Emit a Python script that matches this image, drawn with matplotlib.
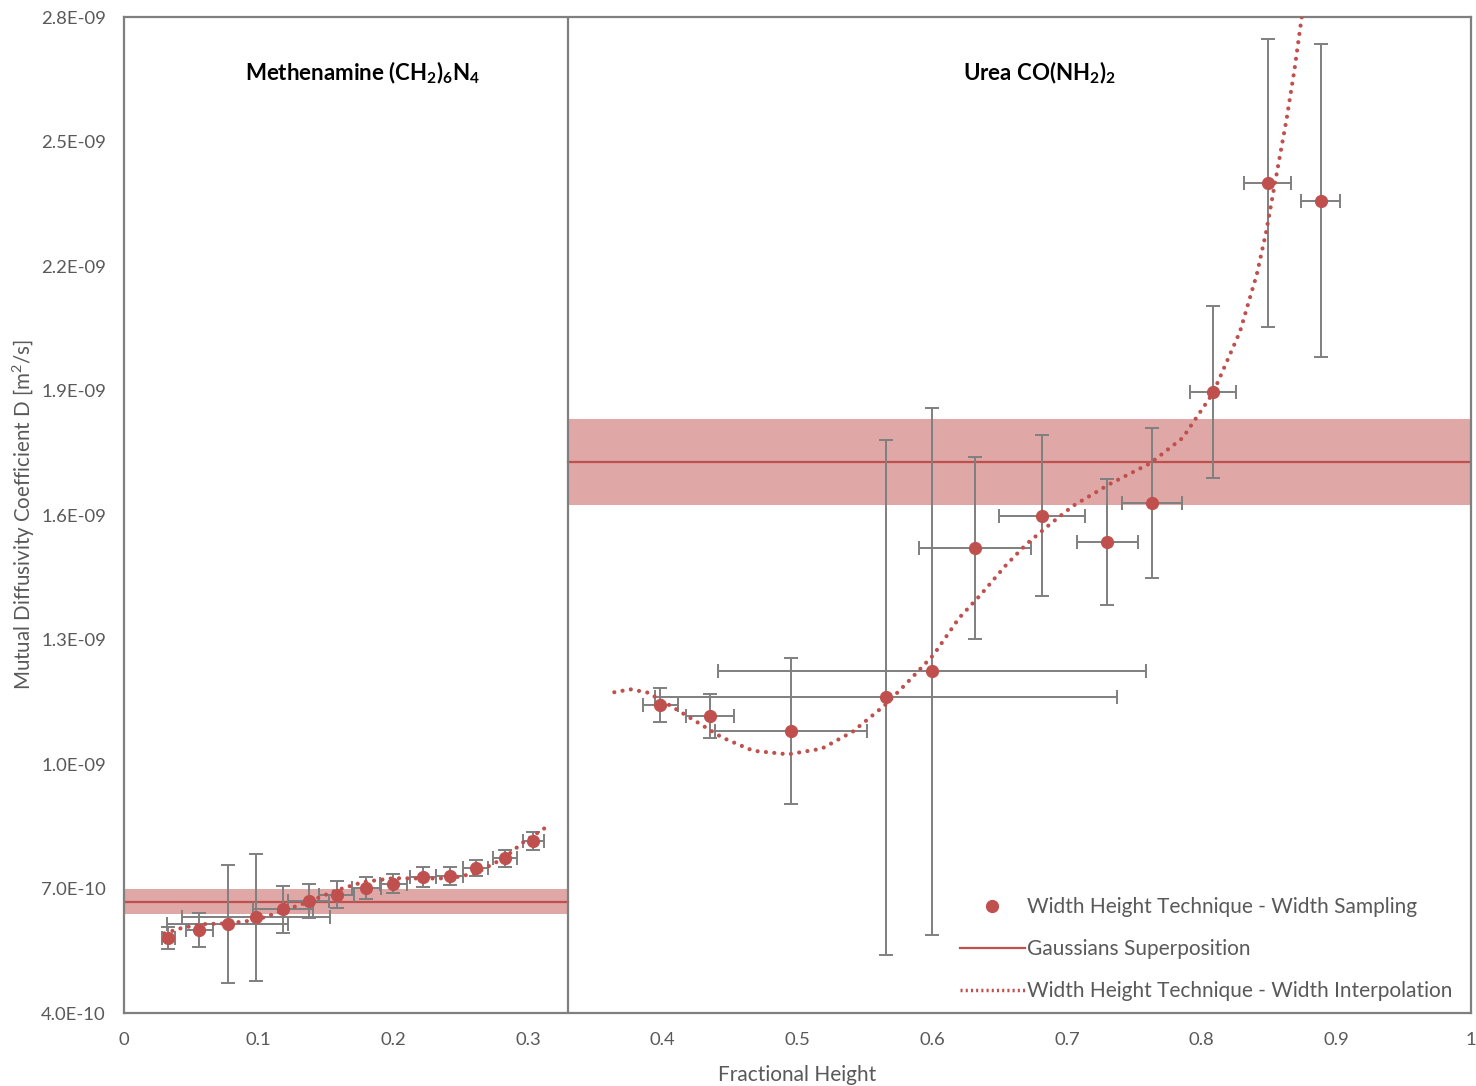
import matplotlib
matplotlib.use("Agg")
import matplotlib.pyplot as plt
import numpy as np
from matplotlib.lines import Line2D

plt.rcParams["font.family"] = ["Lato", "DejaVu Sans"]

RED = "#C0504D"
GREY = "#7F7F7F"
TXT = "#595959"

# --- Methenamine (left panel) ---
meth_x = [0.033, 0.056, 0.077, 0.098, 0.118, 0.137, 0.158, 0.180, 0.200, 0.222, 0.242, 0.261, 0.283, 0.304]
meth_y = [5.81e-10, 6.00e-10, 6.14e-10, 6.31e-10, 6.50e-10, 6.70e-10, 6.85e-10, 7.01e-10,
          7.12e-10, 7.27e-10, 7.30e-10, 7.49e-10, 7.73e-10, 8.14e-10]
meth_yerr = [2.7e-11, 4.0e-11, 1.42e-10, 1.53e-10, 5.7e-11, 4.0e-11, 3.2e-11, 2.6e-11,
             2.3e-11, 2.4e-11, 2.1e-11, 1.9e-11, 2.1e-11, 2.2e-11]
meth_xerr = [0.005, 0.010, 0.045, 0.055, 0.022, 0.015, 0.013, 0.011, 0.010, 0.010, 0.010, 0.009, 0.009, 0.008]

meth_fit_x = [0.030, 0.042, 0.057, 0.077, 0.098, 0.116, 0.137, 0.158, 0.178, 0.200, 0.223, 0.243,
              0.261, 0.282, 0.297, 0.314]
meth_fit_y = [5.92e-10, 6.04e-10, 6.14e-10, 6.16e-10, 6.24e-10, 6.44e-10, 6.68e-10, 6.96e-10,
              7.16e-10, 7.25e-10, 7.24e-10, 7.25e-10, 7.37e-10, 7.73e-10, 8.13e-10, 8.49e-10]

meth_gauss = 6.68e-10
meth_gauss_err = 3.0e-11

# --- Urea (right panel) ---
urea_x = [0.398, 0.435, 0.495, 0.566, 0.600, 0.632, 0.6815, 0.730, 0.763, 0.8085, 0.849, 0.8886]
urea_y = [1.142e-9, 1.116e-9, 1.0795e-9, 1.161e-9, 1.224e-9, 1.520e-9, 1.598e-9, 1.535e-9,
          1.629e-9, 1.896e-9, 2.400e-9, 2.357e-9]
urea_yerr = [4.1e-11, 5.3e-11, 1.75e-10, 6.2e-10, 6.35e-10, 2.19e-10, 1.94e-10, 1.52e-10,
             1.81e-10, 2.07e-10, 3.48e-10, 3.77e-10]
urea_xerr = [0.013, 0.0175, 0.0564, 0.1715, 0.159, 0.0416, 0.032, 0.0226, 0.0223, 0.017, 0.0174, 0.0145]

urea_fit_x = [0.364, 0.376, 0.389, 0.407, 0.423, 0.444, 0.467, 0.493, 0.518, 0.541, 0.565, 0.581,
              0.601, 0.620, 0.636, 0.655, 0.670, 0.6875, 0.7045, 0.732, 0.762, 0.786, 0.8085,
              0.8285, 0.841, 0.848, 0.856, 0.863, 0.869, 0.8743, 0.879]
urea_fit_y = [1.173e-9, 1.180e-9, 1.172e-9, 1.138e-9, 1.106e-9, 1.064e-9, 1.032e-9, 1.0234e-9,
              1.037e-9, 1.078e-9, 1.142e-9, 1.1945e-9, 1.263e-9, 1.352e-9, 1.408e-9, 1.480e-9,
              1.530e-9, 1.578e-9, 1.622e-9, 1.675e-9, 1.725e-9, 1.786e-9, 1.894e-9, 2.042e-9,
              2.180e-9, 2.283e-9, 2.427e-9, 2.552e-9, 2.674e-9, 2.799e-9, 2.90e-9]

urea_gauss = 1.728e-9
urea_gauss_err = 1.03e-10

DIVIDER = 0.33

fig = plt.figure(figsize=(14.76, 10.86), dpi=100)
ax = fig.add_axes([0.084, 0.0672, 0.9126, 0.9171])

# Gaussian superposition bands + lines
ax.fill_between([0, DIVIDER], meth_gauss - meth_gauss_err, meth_gauss + meth_gauss_err,
                color=RED, alpha=0.5, lw=0, zorder=1)
ax.plot([0, DIVIDER], [meth_gauss, meth_gauss], color=RED, lw=1.6, zorder=2)
ax.fill_between([DIVIDER, 1], urea_gauss - urea_gauss_err, urea_gauss + urea_gauss_err,
                color=RED, alpha=0.5, lw=0, zorder=1)
ax.plot([DIVIDER, 1], [urea_gauss, urea_gauss], color=RED, lw=1.6, zorder=2)

ax.axvline(DIVIDER, color=GREY, lw=1.6, zorder=3)

for xs, ys, xe, ye in [(meth_x, meth_y, meth_xerr, meth_yerr), (urea_x, urea_y, urea_xerr, urea_yerr)]:
    ax.errorbar(xs, ys, xerr=xe, yerr=ye, fmt="none", ecolor=GREY, elinewidth=1.4,
                capsize=5, capthick=1.4, zorder=3)
    ax.plot(xs, ys, "o", color=RED, ms=8.5, zorder=5)

for fx, fy in [(meth_fit_x, meth_fit_y), (urea_fit_x, urea_fit_y)]:
    ax.plot(fx, fy, color=RED, lw=3, dashes=(0.01, 2.0), dash_capstyle="round", zorder=4)

ax.text(0.177, 2.665e-9, r"Methenamine (CH$\mathregular{_2}$)$\mathregular{_6}$N$\mathregular{_4}$",
        ha="center", va="center", fontsize=16, fontweight="bold", color="black")
ax.text(0.68, 2.665e-9, r"Urea CO(NH$\mathregular{_2}$)$\mathregular{_2}$",
        ha="center", va="center", fontsize=16, fontweight="bold", color="black")

ax.set_xlim(0, 1)
ax.set_ylim(4.0e-10, 2.8e-9)
ax.set_xticks(np.arange(0, 1.01, 0.1))
ax.set_xticklabels([f"{v:g}" for v in np.round(np.arange(0, 1.01, 0.1), 1)])
yt = [4.0e-10, 7.0e-10, 1.0e-9, 1.3e-9, 1.6e-9, 1.9e-9, 2.2e-9, 2.5e-9, 2.8e-9]
ax.set_yticks(yt)
ax.set_yticklabels([f"{v:.1E}" for v in yt])
ax.tick_params(axis="y", length=0, labelsize=13.3, colors=TXT, pad=13)
ax.tick_params(axis="x", length=0, labelsize=13.3, colors=TXT, pad=14)
for s in ax.spines.values():
    s.set_color(GREY)
    s.set_linewidth(1.6)

ax.set_xlabel("Fractional Height", fontsize=15, color=TXT, labelpad=12)
ax.set_ylabel(r"Mutual Diffusivity Coefficient D [m$\mathregular{^2}$/s]", fontsize=14.8,
              color=TXT, labelpad=3)

handles = [
    Line2D([], [], ls="none", marker="o", color=RED, ms=8.5),
    Line2D([], [], color=RED, lw=1.6),
    Line2D([], [], color=RED, lw=2.5, dashes=(0.6, 0.9)),
]
labels = ["Width Height Technique - Width Sampling", "Gaussians Superposition",
          "Width Height Technique - Width Interpolation"]
leg = ax.legend(handles, labels, loc="lower right", frameon=False, fontsize=15,
                handlelength=3.1, handletextpad=0.1, labelspacing=1.05,
                bbox_to_anchor=(1.0, -0.007))
for t in leg.get_texts():
    t.set_color(TXT)

fig.savefig("out.png", dpi=100)
